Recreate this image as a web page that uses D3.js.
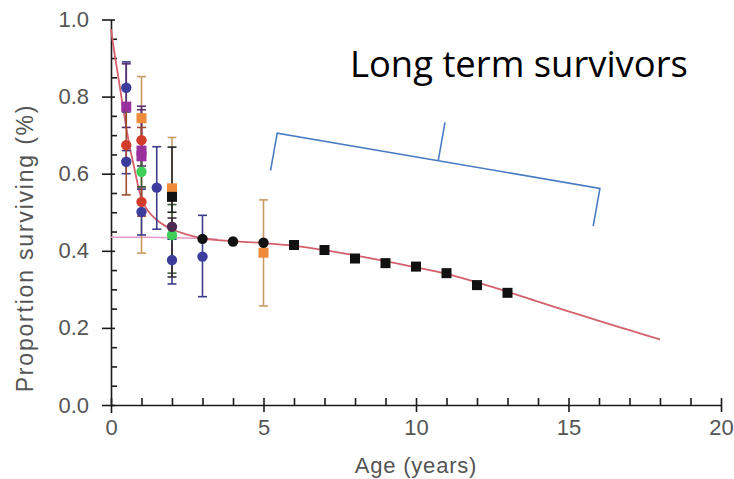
<!DOCTYPE html>
<html>
<head>
<meta charset="utf-8">
<script src="https://cdn.jsdelivr.net/npm/d3@7"></script>
<style>
  body { margin: 0; background: #fff; }
  svg { display: block; }
</style>
</head>
<body>
<div id="chart"></div>
<script>
// DATA - rows are [age, proportion, low, high]
const navyPts = [[0.5, 0.823, 0.76, 0.89], [0.5, 0.631, 0.60, 0.66], [1, 0.501, 0.441, 0.56],
  [1.5, 0.564, 0.456, 0.67], [2, 0.376, 0.314, 0.43], [3, 0.385, 0.281, 0.492]];
const purplePts = [[0.5, 0.774, 0.72, 0.885], [1, 0.66, 0.62, 0.775], [1, 0.645, 0.61, 0.766]];
const redPts = [[0.5, 0.674, 0.545, 0.78], [1, 0.687, 0.65, 0.72], [1, 0.527, 0.49, 0.566]];
const orangePts = [[1, 0.744, 0.394, 0.852], [2, 0.562, 0.43, 0.694], [5, 0.395, 0.257, 0.532]];
const greenPts = [[1, 0.605, 0.566, 0.645], [2, 0.441, 0.342, 0.52]];
const plumPts = [[2, 0.4625, 0.332, 0.485]];
const blackSqPts = [[2, 0.54, 0.50, 0.669], [6, 0.415], [7, 0.402], [8, 0.38], [9, 0.368],
  [10, 0.359], [11, 0.342], [12, 0.311], [13, 0.291]];
const blackDotPts = [[3, 0.431], [4, 0.424], [5, 0.421]];

// fitted curves
const fitX = [0, 0.1, 0.2, 0.3, 0.4, 0.5, 0.625, 0.75, 0.9, 1, 1.25, 1.5, 1.75, 2, 2.5, 3,
  4, 5, 6, 7, 8, 9, 10, 11, 12, 13, 14, 15, 16, 17, 18];
const fitY = [0.975, 0.92, 0.87, 0.82, 0.77, 0.72, 0.665, 0.62, 0.565, 0.535, 0.5, 0.48, 0.466, 0.456, 0.442, 0.432,
  0.425, 0.42, 0.413, 0.402, 0.388, 0.373, 0.357, 0.34, 0.318, 0.294, 0.268, 0.243, 0.218, 0.194, 0.17];
const longX = [0, 1, 2, 3, 3.5];
const longY = [0.435, 0.435, 0.434, 0.432, 0.43];

// bracket annotation (data units)
const bracketX = [5.23, 5.45, 16.03, 15.81];
const bracketY = [0.608, 0.705, 0.562, 0.464];
const stemX = [10.73, 10.95];
const stemY = [0.634, 0.733];

const xMajor = [0, 5, 10, 15, 20];
const xMinor = d3.range(1, 20).filter(v => v % 5 !== 0);
const yMajor = [0, 0.2, 0.4, 0.6, 0.8, 1.0];
const yMinor = [0.05, 0.1, 0.15, 0.25, 0.3, 0.35, 0.45, 0.5, 0.55, 0.65, 0.7, 0.75, 0.85, 0.9, 0.95];

const WIDTH = 734, HEIGHT = 479;
const FONT = "'Liberation Sans', Arial, sans-serif";
const AXIS_COLOR = "#1a1a1a";
const LABEL_COLOR = "#555";

const svg = d3.select("#chart").append("svg")
  .attr("width", WIDTH).attr("height", HEIGHT);

const x = d3.scaleLinear().domain([0, 20]).range([111, 721]);
const y = d3.scaleLinear().domain([0, 1]).range([405, 19.5]);

// AXES
const yAxisG = svg.append("g").attr("transform", `translate(${x(0)},0)`)
  .call(d3.axisLeft(y).tickValues(yMajor).tickFormat(d3.format(".1f")).tickSizeOuter(0).tickPadding(16));
yAxisG.selectAll(".tick line").attr("x1", 4).attr("x2", -9);
const yMinorG = svg.append("g").attr("transform", `translate(${x(0)},0)`)
  .call(d3.axisRight(y).tickValues(yMinor).tickFormat("").tickSize(6).tickSizeOuter(0));
yMinorG.select(".domain").remove();

const xAxisG = svg.append("g").attr("transform", `translate(0,${y(0)})`)
  .call(d3.axisBottom(x).tickValues(xMajor).tickSizeOuter(0).tickPadding(8));
xAxisG.selectAll(".tick line").attr("y1", -7).attr("y2", 7);
xAxisG.selectAll(".tick").filter(d => d === 0).select("line").attr("y2", 8);
const xMinorG = svg.append("g").attr("transform", `translate(0,${y(0)})`)
  .call(d3.axisTop(x).tickValues(xMinor).tickFormat("").tickSize(7).tickSizeOuter(0));
xMinorG.select(".domain").remove();

svg.selectAll(".domain, .tick line").attr("stroke", AXIS_COLOR).attr("stroke-width", 1.6);
svg.selectAll(".tick text").attr("fill", LABEL_COLOR)
  .style("font-family", FONT).style("font-size", "22px");

// AXIS LABELS
svg.append("text")
  .attr("x", x(10)).attr("y", 473)
  .attr("text-anchor", "middle")
  .style("font-family", FONT).style("font-size", "22px").style("letter-spacing", "0.8px")
  .attr("fill", LABEL_COLOR)
  .text("Age (years)");

svg.append("text")
  .attr("transform", `translate(33,${(100 + 396) / 2}) rotate(-90)`)
  .attr("text-anchor", "middle")
  .style("font-family", FONT).style("font-size", "23px").style("letter-spacing", "1.8px")
  .attr("fill", LABEL_COLOR)
  .text("Proportion surviving (%)");

// CURVES
const line = d3.line().x(d => x(d[0])).y(d => y(d[1])).curve(d3.curveMonotoneX);
svg.append("path")
  .attr("d", line(longX.map((v, i) => [v, longY[i]])))
  .attr("fill", "none").attr("stroke", "#e59ac8").attr("stroke-width", 1.6);
svg.append("path")
  .attr("d", line(fitX.map((v, i) => [v, fitY[i]])))
  .attr("fill", "none").attr("stroke", "#d4606c").attr("stroke-width", 1.8);

// ERROR BARS AND MARKERS
const groups = [
  { pts: orangePts, fill: "#ee8a3a", bar: "#c99a62", shape: "square" },
  { pts: navyPts, fill: "#3c3c9c", bar: "#3c3c8c", shape: "circle" },
  { pts: purplePts, fill: "#9a2f9e", bar: "#5a2f6e", shape: "square" },
  { pts: redPts, fill: "#d23c2a", bar: "#a04a30", shape: "circle" },
  { pts: greenPts, fill: "#3fcf58", bar: "#3a5a3a", shape: "circle" },
  { pts: plumPts, fill: "#4e2a52", bar: "#3a2a3a", shape: "circle" },
  { pts: blackSqPts, fill: "#111", bar: "#222", shape: "square" },
  { pts: blackDotPts, fill: "#111", bar: "#222", shape: "circle" }
];

const CAP = 4.5;
groups.forEach(g => {
  const withErr = g.pts.filter(d => d.length === 4);
  const eb = svg.append("g").attr("stroke", g.bar).attr("stroke-width", 1.6);
  eb.selectAll("line.v").data(withErr).enter().append("line")
    .attr("x1", d => x(d[0])).attr("x2", d => x(d[0]))
    .attr("y1", d => y(d[2])).attr("y2", d => y(d[3]));
  eb.selectAll("line.lo").data(withErr).enter().append("line")
    .attr("x1", d => x(d[0]) - CAP).attr("x2", d => x(d[0]) + CAP)
    .attr("y1", d => y(d[2])).attr("y2", d => y(d[2]));
  eb.selectAll("line.hi").data(withErr).enter().append("line")
    .attr("x1", d => x(d[0]) - CAP).attr("x2", d => x(d[0]) + CAP)
    .attr("y1", d => y(d[3])).attr("y2", d => y(d[3]));
});

groups.forEach(g => {
  const mk = svg.append("g").attr("fill", g.fill);
  if (g.shape === "square") {
    mk.selectAll("rect").data(g.pts).enter().append("rect")
      .attr("x", d => x(d[0]) - 5).attr("y", d => y(d[1]) - 5)
      .attr("width", 10).attr("height", 10);
  } else {
    mk.selectAll("circle").data(g.pts).enter().append("circle")
      .attr("cx", d => x(d[0])).attr("cy", d => y(d[1])).attr("r", 5.2);
  }
});

// BRACKET ANNOTATION
const straight = d3.line().x(d => x(d[0])).y(d => y(d[1]));
svg.append("path")
  .attr("d", straight(bracketX.map((v, i) => [v, bracketY[i]])))
  .attr("fill", "none").attr("stroke", "#4a7cc4").attr("stroke-width", 1.6);
svg.append("path")
  .attr("d", straight(stemX.map((v, i) => [v, stemY[i]])))
  .attr("fill", "none").attr("stroke", "#4a7cc4").attr("stroke-width", 1.6);

const note = svg.append("text")
  .attr("x", 350).attr("y", 77)
  .style("font-family", "'Open Sans', 'Noto Sans', sans-serif").style("font-size", "31px")
  .attr("fill", "#000")
  .text("Long term survivors");
const w = note.node().getComputedTextLength();
note.style("font-size", (31 * 338 / w).toFixed(2) + "px");
</script>
</body>
</html>
